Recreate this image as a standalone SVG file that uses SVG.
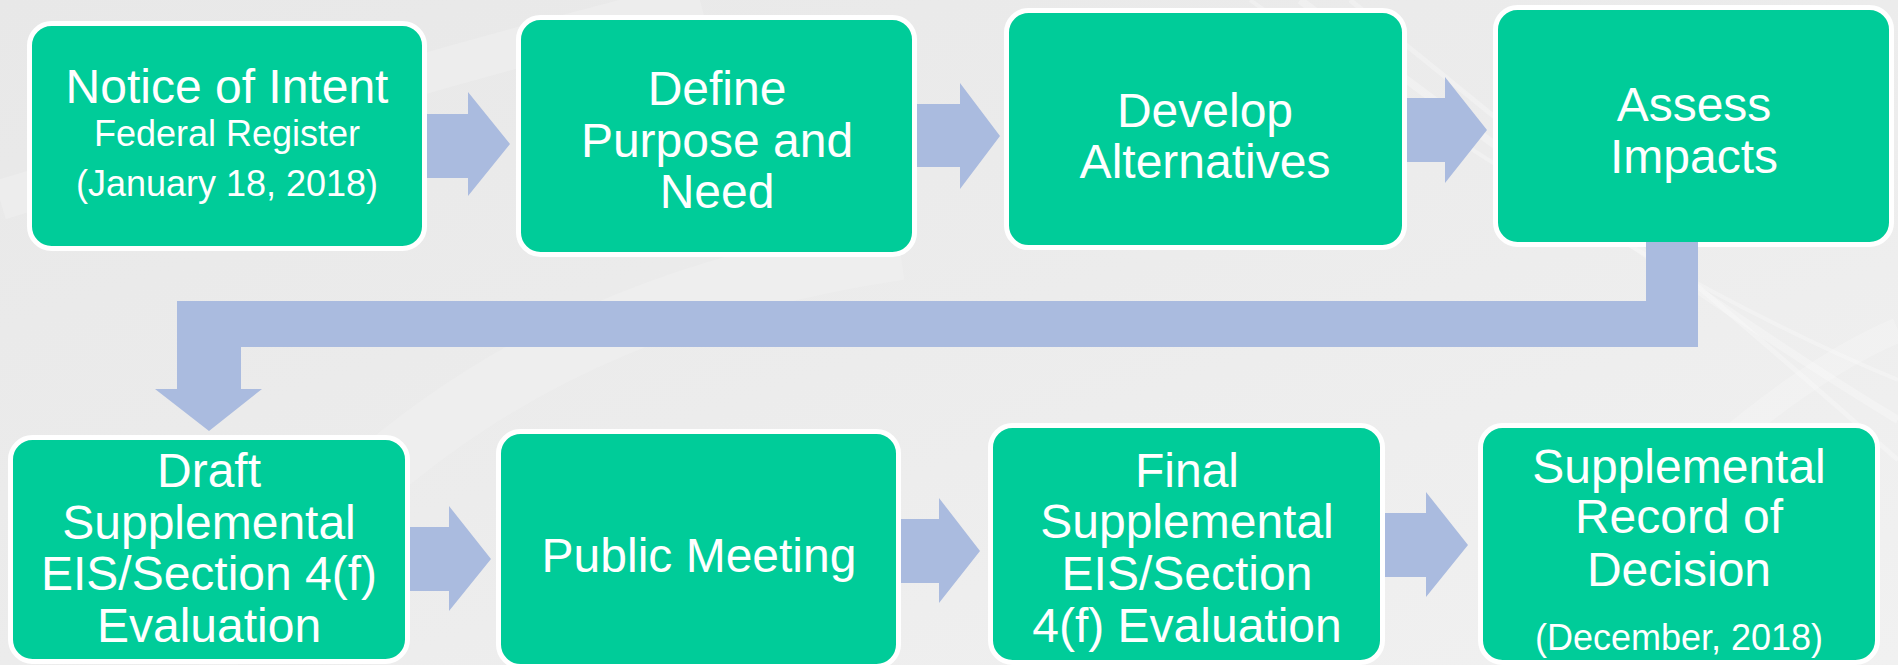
<svg xmlns="http://www.w3.org/2000/svg" width="1898" height="665" viewBox="0 0 1898 665">
<defs>
<linearGradient id="bg" x1="0" y1="0" x2="1" y2="1">
<stop offset="0" stop-color="#E8E8E8"/>
<stop offset="0.5" stop-color="#ECECEC"/>
<stop offset="1" stop-color="#F1F1F1"/>
</linearGradient>
<style>
.box{fill:#00CC99;stroke:#FFFFFF;stroke-width:5}
.t{font-family:"Liberation Sans",Arial,sans-serif;fill:#FFFFFF;text-anchor:middle;font-size:48px}
.s{font-size:36px}
.arr{fill:#AABBDF}
</style>
</defs>
<rect x="0" y="0" width="1898" height="665" fill="url(#bg)"/>
<g id="background-streaks" fill="none" stroke="#FFFFFF">
<path d="M0,200 C200,140 420,70 700,0" stroke-width="40" opacity="0.18"/>
<path d="M200,665 C360,450 560,300 900,250" stroke-width="60" opacity="0.15"/>
<path d="M1500,665 C1650,500 1780,380 1898,330" stroke-width="25" opacity="0.2"/>
<path d="M1300,0 C1500,150 1700,300 1898,420" stroke-width="8" opacity="0.25"/>
<path d="M1350,0 C1550,160 1740,320 1898,460" stroke-width="5" opacity="0.25"/>
<path d="M1250,0 C1450,140 1680,290 1898,380" stroke-width="4" opacity="0.25"/>
</g>
<g id="n1"><rect class="box" x="29.5" y="23.5" width="395" height="225" rx="22"/>
<text class="t" x="227" y="103">Notice of Intent</text>
<text class="t s" x="227" y="146">Federal Register</text>
<text class="t s" x="227" y="196">(January 18, 2018)</text></g>
<g id="n2"><rect class="box" x="518.5" y="17.5" width="396" height="237" rx="22"/>
<text class="t" x="717" y="105">Define</text>
<text class="t" x="717" y="157">Purpose and</text>
<text class="t" x="717" y="208">Need</text></g>
<g id="n3"><rect class="box" x="1006.5" y="10.5" width="398" height="237" rx="22"/>
<text class="t" x="1205" y="127">Develop</text>
<text class="t" x="1205" y="178">Alternatives</text></g>
<g id="n4"><rect class="box" x="1495.5" y="7.5" width="396" height="237" rx="22"/>
<text class="t" x="1694" y="121">Assess</text>
<text class="t" x="1694" y="173">Impacts</text></g>
<g id="n5"><rect class="box" x="10.5" y="437.5" width="397" height="224" rx="22"/>
<text class="t" x="209" y="487">Draft</text>
<text class="t" x="209" y="539">Supplemental</text>
<text class="t" x="209" y="590">EIS/Section 4(f)</text>
<text class="t" x="209" y="642">Evaluation</text></g>
<g id="n6"><rect class="box" x="498.5" y="431.5" width="400" height="235" rx="22"/>
<text class="t" x="699" y="572">Public Meeting</text></g>
<g id="n7"><rect class="box" x="990.5" y="425.5" width="392" height="237" rx="22"/>
<text class="t" x="1187" y="487">Final</text>
<text class="t" x="1187" y="538">Supplemental</text>
<text class="t" x="1187" y="590">EIS/Section</text>
<text class="t" x="1187" y="642">4(f) Evaluation</text></g>
<g id="n8"><rect class="box" x="1480.5" y="425.5" width="397" height="237" rx="22"/>
<text class="t" x="1679" y="483">Supplemental</text>
<text class="t" x="1679" y="533">Record of</text>
<text class="t" x="1679" y="586">Decision</text>
<text class="t s" x="1679" y="650">(December, 2018)</text></g>
<g id="connectors" class="arr">
<polygon points="427,114 468,114 468,92 510,144 468,196 468,178 427,178"/>
<polygon points="917,104 960,104 960,83 1000,136 960,189 960,167 917,167"/>
<polygon points="1407,98 1445,98 1445,77 1487,130 1445,183 1445,162 1407,162"/>
<polygon points="1646,242 1698,242 1698,347 241,347 241,389 262,389 209,431 155,389 177,389 177,301 1646,301"/>
<polygon points="410,527 449,527 449,506 491,559 449,611 449,591 410,591"/>
<polygon points="901,519 939,519 939,498 980,551 939,603 939,583 901,583"/>
<polygon points="1385,513 1426,513 1426,492 1468,545 1426,597 1426,577 1385,577"/>
</g>
</svg>
